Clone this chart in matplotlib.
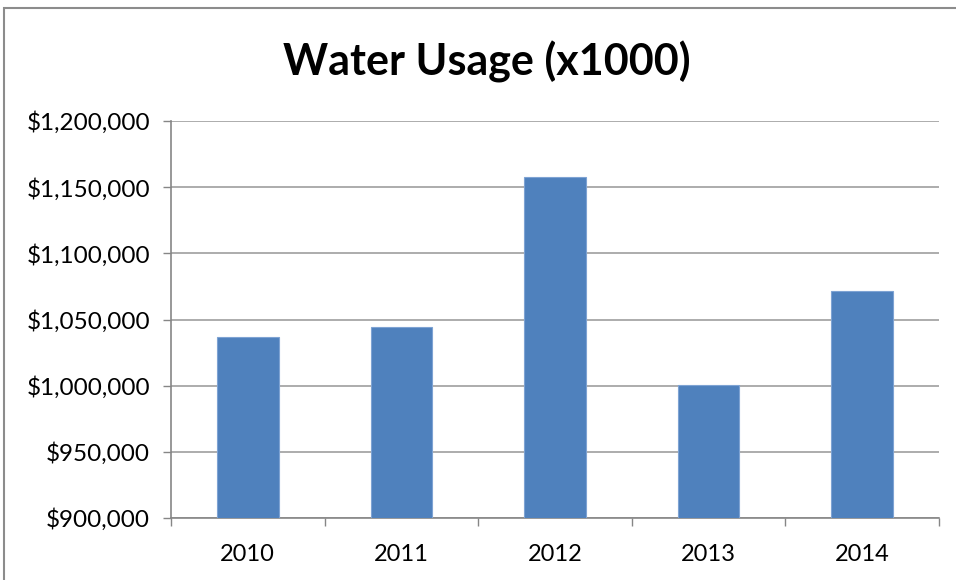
import matplotlib.pyplot as plt
from matplotlib.patches import Rectangle
from matplotlib.ticker import FuncFormatter

years = ["2010", "2011", "2012", "2013", "2014"]
usage = [1036500, 1044300, 1157700, 1000700, 1071300]

plt.rcParams["font.family"] = ["Lato", "DejaVu Sans"]

fig = plt.figure(figsize=(9.56, 5.8), dpi=100)
ax = fig.add_axes([171 / 956, 62 / 580, 768 / 956, 397 / 580])

x = range(len(years))
ax.bar(x, usage, width=0.4, color="#4f81bd", edgecolor="#7ea3d3", linewidth=0.8, zorder=3)

ax.set_xlim(-0.5, len(years) - 0.5)
ax.set_ylim(900000, 1200000)
ax.set_yticks(range(900000, 1200001, 50000))
ax.yaxis.set_major_formatter(FuncFormatter(lambda v, _: f"${v:,.0f}"))
ax.grid(axis="y", color="#a6a6a6", linewidth=1.3, zorder=0)

# year labels in the middle, tick marks on the category edges
ax.set_xticks(list(x))
ax.set_xticklabels(years)
ax.set_xticks([i - 0.5 for i in range(len(years) + 1)], minor=True)
ax.tick_params(axis="x", which="major", length=0, pad=19, labelsize=17)
ax.tick_params(axis="x", which="minor", length=6, width=1, color="#868686", direction="out")
ax.tick_params(axis="y", length=6, width=1, color="#868686", pad=9, labelsize=17.5)

for side in ("top", "right"):
    ax.spines[side].set_visible(False)
for side in ("left", "bottom"):
    ax.spines[side].set_color("#868686")
    ax.spines[side].set_linewidth(1.2)

fig.text(487 / 956, 1 - 62 / 580, "Water Usage (x1000)", ha="center", va="center",
         fontsize=31, fontweight="bold")

# chart frame
fig.patches.append(Rectangle((3.5 / 956, -0.1), 2, (580 - 8) / 580 + 0.1,
                             transform=fig.transFigure, fill=False,
                             edgecolor="#8c8c8c", linewidth=1.5))

fig.savefig("out.png", dpi=100)
